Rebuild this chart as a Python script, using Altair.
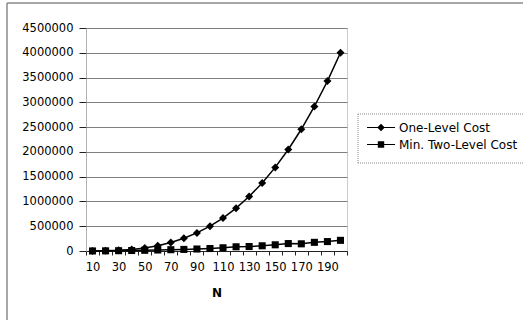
import altair as alt
import pandas as pd

N = [10, 20, 30, 40, 50, 60, 70, 80, 90, 100, 110, 120, 130, 140, 150, 160, 170, 180, 190, 200]
one_level = [500, 4000, 13500, 32000, 62500, 108000, 171500, 256000, 364500, 500000,
             665500, 864000, 1098500, 1372000, 1687500, 2048000, 2456500, 2916000, 3429500, 4000000]
two_level = [1000, 3000, 6000, 10000, 14000, 20000, 26000, 32000, 40000, 50000,
             65000, 85000, 90000, 105000, 125000, 150000, 145000, 175000, 190000, 215000]
series_names = ["One-Level Cost", "Min. Two-Level Cost"]
y_ticks = [0, 500000, 1000000, 1500000, 2000000, 2500000, 3000000, 3500000, 4000000, 4500000]

rows = []
for n, a, b in zip(N, one_level, two_level):
    rows.append({"N": n, "cost": a, "series": series_names[0]})
    rows.append({"N": n, "cost": b, "series": series_names[1]})
df = pd.DataFrame(rows)

FONT = "DejaVu Sans"
x_ticks = [n - 5 for n in N] + [N[-1] + 5]

x_enc = alt.X(
    "N:Q",
    scale=alt.Scale(domain=[N[0] - 5, N[-1] + 5], nice=False, zero=False),
    axis=alt.Axis(
        title="N", values=x_ticks, grid=False,
        labelExpr="(datum.value + 5) % 20 == 10 && datum.value < 200 ? format(datum.value + 5, 'd') : ''",
        labelOffset=6.5, labelOverlap=False, labelFlush=False, labelBound=False,
        tickSize=4, tickColor="#222", domainColor="#222", labelPadding=6,
        labelFont=FONT, labelFontSize=11.5, labelColor="black",
        titleFont=FONT, titleFontSize=12, titleFontWeight="bold", titleColor="black",
        titlePadding=15,
    ),
)
y_enc = alt.Y(
    "cost:Q",
    scale=alt.Scale(domain=[0, 4500000], nice=False),
    axis=alt.Axis(
        title=None, values=y_ticks, format="d", grid=True, gridColor="#808080",
        gridWidth=1, tickSize=7, tickColor="#222", domainColor="#999",
        domainDash=[1, 1], labelPadding=6, labelOverlap=False,
        labelFont=FONT, labelFontSize=11.5, labelColor="black",
    ),
)

one = pd.DataFrame({"a": [0]})
frame_left = alt.Chart(one).mark_rule(stroke="#8a8a8a", strokeWidth=1.5, clip=False).encode(
    x=alt.value(-79), y=alt.value(-25), y2=alt.value(292)
)
frame_top = alt.Chart(one).mark_rule(stroke="#8a8a8a", strokeWidth=1.5, clip=False).encode(
    x=alt.value(-79), x2=alt.value(437), y=alt.value(-25)
)
legend_fill = alt.Chart(one).mark_rect(fill="white", clip=False).encode(
    x=alt.value(272), x2=alt.value(437), y=alt.value(86), y2=alt.value(135)
)
legend_left = alt.Chart(one).mark_rule(stroke="#888", strokeWidth=1, strokeDash=[1, 1], clip=False).encode(
    x=alt.value(272), y=alt.value(86), y2=alt.value(135)
)
legend_top = alt.Chart(one).mark_rule(stroke="#888", strokeWidth=1, strokeDash=[1, 1], clip=False).encode(
    x=alt.value(272), x2=alt.value(437), y=alt.value(86)
)
legend_bottom = alt.Chart(one).mark_rule(stroke="#888", strokeWidth=1, strokeDash=[1, 1], clip=False).encode(
    x=alt.value(272), x2=alt.value(437), y=alt.value(135)
)

lines = alt.Chart(df).mark_line(color="black", strokeWidth=1.5).encode(
    x=x_enc, y=y_enc, detail="series:N"
)
points = alt.Chart(df).mark_point(filled=True, color="black", opacity=1).encode(
    x=x_enc, y=y_enc,
    shape=alt.Shape("series:N", scale=alt.Scale(domain=series_names, range=["diamond", "square"]), legend=None),
    size=alt.Size("series:N", scale=alt.Scale(domain=series_names, range=[64, 50]), legend=None),
)
legend_layer = alt.Chart(df).mark_point(filled=True, color="black", opacity=0).encode(
    x=x_enc, y=y_enc,
    shape=alt.Shape(
        "series:N",
        scale=alt.Scale(
            domain=series_names,
            range=["M-3.5,-0.15L3.5,-0.15L3.5,0.15L-3.5,0.15ZM0,-0.95L0.95,0L0,0.95L-0.95,0Z",
                   "M-3.5,-0.15L3.5,-0.15L3.5,0.15L-3.5,0.15ZM-0.8,-0.8L0.8,-0.8L0.8,0.8L-0.8,0.8Z"],
        ),
        legend=alt.Legend(
            title=None, orient="none", legendX=272, legendY=93.5, padding=0,
            symbolSize=64, symbolOffset=17, labelOffset=12, rowPadding=5,
            symbolFillColor="black", symbolStrokeColor="black", symbolStrokeWidth=0.5,
            symbolOpacity=1,
            labelFont=FONT, labelFontSize=12, labelColor="black",
        ),
    ),
)

chart = alt.layer(
    frame_left, frame_top, legend_fill, legend_left, legend_top, legend_bottom,
    lines, points, legend_layer,
).resolve_scale(
    shape="independent", size="independent"
).resolve_legend(shape="independent").properties(
    width=261, height=223,
    padding={"left": 86, "top": 28, "right": 176, "bottom": 69},
    autosize=alt.AutoSizeParams(type="none"),
    background="white",
).configure_view(stroke="#999", strokeDash=[1, 1], strokeWidth=1)

chart.save("out.html", embed_options={"renderer": "svg", "actions": False})
